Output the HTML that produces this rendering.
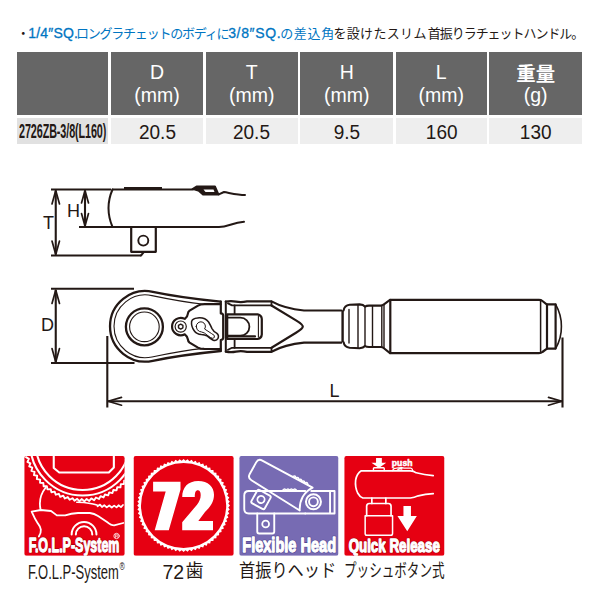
<!DOCTYPE html>
<html lang="ja"><head><meta charset="utf-8"><title>2726ZB-3/8(L160)</title>
<style>
html,body{margin:0;padding:0;background:#fff}
body{width:600px;height:600px;position:relative;overflow:hidden;font-family:"Liberation Sans","Noto Sans CJK JP",sans-serif;color:#231815}
.hdr{position:absolute;left:0;top:0;width:600px;height:46px;font-size:14px;white-space:nowrap}
.hdr .b{position:absolute;top:26.3px;line-height:15px;color:#0075c2;letter-spacing:.2px;-webkit-text-stroke:.3px #0075c2}
.hdr .j{position:absolute;top:25.5px;line-height:16.9px;font-size:13px;color:#231815;font-family:"Liberation Sans","Noto Sans CJK JP",sans-serif}
.hdr .j.bl{color:#0075c2}
.th{position:absolute;top:51.6px;height:63.9px;background:#666;color:#fff;text-align:center;font-size:19.5px;line-height:22.2px}
.th .hw{position:absolute;left:0;right:0;top:9.9px}
.th .jw{font-size:19.4px;font-weight:bold;position:relative;top:1.2px;font-family:"Liberation Sans","Noto Sans CJK JP",sans-serif}
.td{position:absolute;top:117.8px;height:26px;background:#eee;text-align:center;font-size:20px;line-height:28.6px;white-space:nowrap}
.td.m{background:#e1e1e1;text-align:left}
.td span{display:inline-block;transform:scaleX(.95)}
.td.m span{font-weight:bold;font-size:19.5px;transform:scaleX(.555);transform-origin:0 50%;margin-left:1.6px;letter-spacing:-.2px;position:relative;top:-.8px}
.cap{position:absolute;top:560px;height:24px;line-height:24px;font-size:19.5px;white-space:nowrap}
.cap .jc{display:inline-block;font-size:18px;line-height:18px;position:relative;top:-2.36px;transform-origin:0 50%;font-family:"Liberation Sans","Noto Sans CJK JP",sans-serif}
.c1{left:28px;font-size:21px}.c1 span{display:inline-block;transform:scaleX(.618);transform-origin:0 50%}
.c1 sup{font-size:11.5px;vertical-align:9px;line-height:0;margin-left:1px}
.c2{left:162.4px}.c2 span{display:inline-block;transform:scaleX(1);transform-origin:0 50%}
.c3{left:239px}
.c4{left:344px}
svg.full{position:absolute;left:0;top:0}
</style></head>
<body>
<div class="hdr"><span class="j" style="left:16.76px">・</span><span class="b" style="left:28.2px">1/4&#8243;SQ.</span><span class="j bl" style="left:75.93px;letter-spacing:-1.21px">ロングラチェットのボディに</span><span class="b" style="left:228.2px;letter-spacing:.65px">3/8&#8243;SQ.</span><span class="j bl" style="left:280.21px;letter-spacing:.66px">の差込角</span><span class="j" style="left:333.42px;letter-spacing:.33px">を設けたスリム</span><span class="j" style="left:427.8px;letter-spacing:-1.04px">首振りラチェットハンドル。</span></div>
<div class="th" style="left:17px;width:91.4px"><div class="hw"></div></div>
<div class="td m" style="left:17px;width:91.4px"><span>2726ZB-3/8(L160)</span></div>
<div class="th" style="left:111px;width:92.2px"><div class="hw">D<br>(mm)</div></div>
<div class="td" style="left:111px;width:92.2px"><span>20.5</span></div>
<div class="th" style="left:205.6px;width:92.2px"><div class="hw">T<br>(mm)</div></div>
<div class="td" style="left:205.6px;width:92.2px"><span>20.5</span></div>
<div class="th" style="left:300.4px;width:92.8px"><div class="hw">H<br>(mm)</div></div>
<div class="td" style="left:300.4px;width:92.8px"><span>9.5</span></div>
<div class="th" style="left:395.6px;width:91.2px"><div class="hw">L<br>(mm)</div></div>
<div class="td" style="left:395.6px;width:91.2px"><span>160</span></div>
<div class="th" style="left:489.4px;width:92.6px"><div class="hw"><span class="jw">重量</span><br>(g)</div></div>
<div class="td" style="left:489.4px;width:92.6px"><span>130</span></div>
<svg class="full" width="600" height="600" viewBox="0 0 600 600" fill="none" stroke="#231815" stroke-linecap="round" stroke-linejoin="round">
<!-- ===== side view ===== -->
<g stroke-width="2.1" stroke-linecap="butt">
  <path d="M51 189.5H111M79 227H112M51 255.5H141"/>
  <path d="M55.75 190.5V254.5M85 190.5V226"/>
</g>
<g stroke-width="1.7">
  <path d="M52 204L55.75 190.6L59.5 204M52 241L55.75 254.4L59.5 241"/>
  <path d="M81.5 203L85 190.6L88.5 203M81.5 213.5L85 225.9L88.5 213.5"/>
</g>
<g stroke-width="2">
  <path d="M112.5 189.5H193"/>
  <path d="M112.5 189.5Q104.5 208 112.5 227"/>
  <path d="M112.5 227H219C228 227 232 222.8 244 221.8"/>
  <path d="M218.8 194.3L224 192C230 193 238 195 245 195"/>
  <path d="M141 255.5L143.6 252.4"/>
</g>
<path d="M124 188.2H162" stroke-width="2.6" stroke-linecap="butt"/>
<path d="M192.5 189L196.5 186.4H215L218.6 194.6H203L199 191Z" stroke-width="1.8" fill="#231815"/>
<path d="M203.5 189.6H213.5L214.5 192H205.5Z" fill="#fff" stroke="none"/>
<rect x="131.2" y="227" width="24.6" height="24.8" stroke-width="2.2"/>
<circle cx="143.3" cy="240.6" r="5" stroke-width="1.9"/>
<!-- ===== top view : dimension lines ===== -->
<g stroke-width="2.1" stroke-linecap="butt">
  <path d="M51 288.8H134M51 363H134.5"/>
  <path d="M55.75 290V362"/>
  <path d="M107.3 336V407.5M562.5 337.5V407.5M108 401.3H562"/>
</g>
<g stroke-width="1.7">
  <path d="M52 303.5L55.75 290L59.5 303.5M52 348.5L55.75 362L59.5 348.5"/>
  <path d="M121.5 397.4L108 401.3L121.5 405.2M548.5 397.4L562 401.3L548.5 405.2"/>
</g>
<!-- ===== head ===== -->
<path d="M220.6 301.6Q180.0 297.5 152.8 291.8A35.3 35.3 0 1 0 152.8 360.8Q180.0 355.1 220.6 351.0" stroke-width="2.3"/>
<path d="M204 304.2Q182.4 302.0 152.0 295.6A31.4 31.4 0 1 0 152.0 357.0Q182.4 350.6 204 348.4" stroke-width="1.1"/>
<circle cx="144.4" cy="326.8" r="18.5" stroke-width="2.3"/>
<circle cx="144.4" cy="326.8" r="14.8" stroke-width="1.1"/>
<!-- screw boss + cover plate -->
<path d="M220.6 304.2H204.5Q200.5 304.2 198 305.6L189.6 310.6Q188 311.8 187.8 314Q187.6 316.8 184.8 318.9A8.7 8.7 0 1 0 184.8 334.3Q187.6 336.4 187.8 339.2Q188 341.4 189.6 342.6L198 347.6Q200.5 349 204.5 349H220.6" stroke-width="2.2"/>
<circle cx="180.7" cy="326.6" r="5.6" stroke-width="1.2"/>
<path d="M180.7 324.1L182.9 325.35V327.85L180.7 329.1L178.5 327.85V325.35Z" stroke-width="1.4"/>
<!-- selector lever -->
<path d="M191.6 321.4Q192.6 318.4 197.4 318Q204.6 317 208.6 322Q210.6 325.4 212 328.6Q213.6 331.6 216.6 333.2Q219.4 335.4 218 338.4Q216.4 341.4 212.8 340Q209.6 338 207.4 336.2Q204.8 334.8 201.4 334.6Q196.6 334.2 194.2 330.8Q191 326.4 191.6 321.4Z" stroke-width="1.5"/>
<path d="M196.2 326.4A4.6 4.6 0 1 1 204.6 329L211.6 333.6Q215.4 335.2 214.4 337.4Q213.2 339.2 210.4 337.6L204.4 333Q201.4 331.8 199.4 331.4Q196.4 330.4 196.2 326.4Z" stroke-width="1"/>
<!-- head end / tongue -->
<path d="M220.8 301.6V313.4Q223.2 313.6 223.2 315.6V337.6Q223.2 339.8 220.8 340V351" stroke-width="2.2"/>
<!-- ===== yoke ===== -->
<path d="M225.8 301.6V351.6" stroke-width="2"/>
<path d="M225.8 301.6Q231 300.6 236 301.6T247 301.4H271.5C278 305 288 309 304 310.5H341.2" stroke-width="2.2"/>
<path d="M225.8 351.6Q231 352.6 236 351.6T247 351.8H271.5C278 348.2 288 344.2 304 342.7H341.2" stroke-width="2.2"/>
<path d="M228 303.4L232 305.4H271.5M228 349.8L232 347.8H271.5" stroke-width="1.8"/>
<path d="M271.5 301.5V305.4M271.5 351.7V347.8" stroke-width="1.8"/>
<path d="M234.6 305.4V314M234.6 339.4V347.8" stroke-width="1.8"/>
<path d="M271.5 305.5L296 320.4Q302.8 324.4 302.8 326.6Q302.8 328.8 296 332.8L271.5 347.7" stroke-width="2.2"/>
<!-- pivot block -->
<path d="M227.2 314.4H257.6Q261.6 315.4 261.8 319V334.4Q261.6 338.2 257.6 339H227.2Z" stroke-width="2.2"/>
<path d="M258.4 316.4V337" stroke-width="1.1"/>
<path d="M227.6 336.4H255" stroke-width="2.2"/>
<path d="M227.6 317.7H240.4A9 9 0 0 1 240.4 335.7H227.6" stroke-width="1.8"/>
<!-- ===== shaft / knurl collar ===== -->
<path d="M342.6 310.3V342.2" stroke-width="2.4" stroke-linecap="butt"/>
<path d="M343.6 310.4Q344.4 305.4 349.6 304.8L359.6 304.4Q363.4 304.6 365 306.6Q366.4 305.6 369 305.6H381Q382.8 305.4 383.6 304.6L390 299.9" stroke-width="2.1"/>
<path d="M343.6 342.2Q344.4 347.2 349.6 347.8L359.6 348.2Q363.4 348 365 346Q366.4 347 369 347H381Q382.8 347.2 383.6 348L390 353.1" stroke-width="2.1"/>
<g stroke-width="1.4">
  <path d="M349 309.5V343M358 304.8V347.8M365 306.6V346M372.5 305.8V346.8M381.8 305.4V347.2M384 304.6V348"/>
</g>
<!-- ===== grip ===== -->
<path d="M390.3 299.9V353.2M390.3 299.9H539Q541 299.9 542.4 301L547 304.6V348.6L542.4 352Q541 353.2 539 353.2H390.3" stroke-width="2.2"/>
<path d="M540.6 300.4V352.6" stroke-width="1.5"/>
<path d="M547 304.4H555.6V348.6H547" stroke-width="2.2"/>
<path d="M555.6 304.4Q561.6 315 561.4 326.5Q561.6 338 555.6 348.6" stroke-width="1.6"/>
<g font-family="Liberation Sans, sans-serif" font-size="18" fill="#231815" stroke="none">
  <text x="43.1" y="229">T</text><text x="67.1" y="217">H</text><text x="41" y="331">D</text><text x="329.6" y="397">L</text>
</g>
</svg>

<svg class="full" width="600" height="600" viewBox="0 0 600 600">
<defs><clipPath id="c1"><rect width="100.5" height="99.8" rx="2.2"/></clipPath><clipPath id="c2"><rect width="100.25" height="99.8" rx="2.2"/></clipPath><clipPath id="c3"><rect width="99.25" height="99.8" rx="2.2"/></clipPath><clipPath id="c4"><rect width="100.25" height="99.8" rx="2.2"/></clipPath></defs>
<g transform="translate(24.25 456)" clip-path="url(#c1)" fill="none" stroke="#fff" stroke-linecap="round" stroke-linejoin="round">
<rect width="100.5" height="99.8" fill="#e60012" stroke="none"/>
<path d="M29.5 -1V12L35 16.5H84.6L89.6 11.5V-1" stroke-width="2.1"/>
<circle cx="58.4" cy="-13.0" r="47" stroke-width="2.1"/>
<circle cx="58.4" cy="-13.0" r="52.5" stroke-width="2.1"/>
<path d="M1.8 1.1L4.6 2.9L3.2 5.8L6.1 7.4L5 10.4L8 11.7L7.2 14.9L10.3 15.9L9.7 19.1L12.9 19.8L12.6 23.1L15.9 23.6L15.8 26.8L19.1 27L19.4 30.3L22.6 30.2L23.2 33.4L26.4 33.1L27.2 36.3L30.4 35.6L31.5 38.7L34.6 37.8L36 40.8L39 39.6L40.6 42.5L43.5 41.1L45.4 43.8L48.2 42.2L50.2 44.7L52.9 42.8L55.1 45.2L57.6 43.1L60.1 45.3L62.4 43L65 44.9L67.1 42.4L69.9 44.2L71.7 41.5L74.7 43L76.3 40.2L79.3 41.4L80.7 38.5L83.9 39.4L85 36.4L88.2 37.1L89.1 34L92.3 34.4L93 31.2L96.2 31.4L96.6 28.1L99.8 28L99.9 24.7L103.2 24.4L103 21.1L106.2 20.4" stroke-width="1.9"/>
<path d="M52.5 46.3Q60 46.3 66 47.4T73.5 49.3" stroke-width="1.5"/>
<path d="M73.3 50.3L75.8 48.6L77.7 51L80 49.3L82.5 51.4L85 49.5L87.5 51.5L89.9 49.6L92.3 51.4L94.3 49.3L96.7 51.1L98.7 49" stroke-width="1.8"/>
<path d="M21.3 31.7A26.4 26.4 0 0 0 16.3 53.5" stroke-width="1.8"/>
<path d="M14.6 80.5Q17 76.5 16.6 73.6Q16 70.4 13.6 67.4Q10.6 63 7.4 55.6L16.6 54L26.8 55L32.6 59.4L41 59.4Q47 57.2 53.8 57H65.6Q70 57.6 73.8 60L82.8 66Q87 69.4 89.8 69.4L99 67" stroke-width="1.8"/>
<path d="M47.4 78.4A12.4 12.4 0 0 1 72.2 78.4M51.6 78.4A8.2 8.2 0 0 1 68 78.4" stroke-width="2"/>
<text x="4.4" y="96.4" textLength="90.8" lengthAdjust="spacingAndGlyphs" font-family="Liberation Sans, sans-serif" font-weight="bold" font-size="21"  fill="#a4000c" stroke="#a4000c" stroke-width="2.6" stroke-linejoin="round">F.O.L.P-System</text><text x="4.4" y="96.4" textLength="90.8" lengthAdjust="spacingAndGlyphs" font-family="Liberation Sans, sans-serif" font-weight="bold" font-size="21"  fill="#fff" stroke="#fff" stroke-width="1.3" stroke-linejoin="round">F.O.L.P-System</text>
<circle cx="92.3" cy="80" r="2.7" stroke-width=".8"/><path d="M91.3 81.6V78.4H92.6Q93.6 78.5 93.5 79.3Q93.4 80 92.6 80.1H91.3M92.6 80.1L93.6 81.6" stroke-width=".6"/>
</g>
<g transform="translate(133.5 456)" clip-path="url(#c2)">
<rect width="100.25" height="99.8" fill="#e60012"/>
<path d="M96.5 49.5L94.8 51.4L96.3 53.5L94.4 55.3L95.8 57.6L93.7 59.2L94.9 61.5L92.7 62.9L93.7 65.4L91.4 66.6L92.2 69.1L89.7 70.1L90.3 72.7L87.8 73.5L88.1 76.1L85.6 76.7L85.6 79.3L83.1 79.7L82.9 82.3L80.3 82.5L79.9 85L77.3 85L76.7 87.5L74.1 87.2L73.3 89.7L70.7 89.1L69.7 91.6L67.2 90.8L66 93.1L63.5 92.1L62.1 94.3L59.8 93.1L58.2 95.2L55.9 93.8L54.1 95.7L52 94.2L50.1 95.9L48.2 94.2L46.1 95.7L44.3 93.8L42 95.2L40.4 93.1L38.1 94.3L36.7 92.1L34.2 93.1L33 90.8L30.5 91.6L29.5 89.1L26.9 89.7L26.1 87.2L23.5 87.5L22.9 85L20.3 85L19.9 82.5L17.3 82.3L17.1 79.7L14.6 79.3L14.6 76.7L12.1 76.1L12.4 73.5L9.9 72.7L10.5 70.1L8 69.1L8.8 66.6L6.5 65.4L7.5 62.9L5.3 61.5L6.5 59.2L4.4 57.6L5.8 55.3L3.9 53.5L5.4 51.4L3.7 49.5L5.4 47.6L3.9 45.5L5.8 43.7L4.4 41.4L6.5 39.8L5.3 37.5L7.5 36.1L6.5 33.6L8.8 32.4L8 29.9L10.5 28.9L9.9 26.3L12.4 25.5L12.1 22.9L14.6 22.3L14.6 19.7L17.1 19.3L17.3 16.7L19.9 16.5L20.3 14L22.9 14L23.5 11.5L26.1 11.8L26.9 9.3L29.5 9.9L30.5 7.4L33 8.2L34.2 5.9L36.7 6.9L38.1 4.7L40.4 5.9L42 3.8L44.3 5.2L46.1 3.3L48.2 4.8L50.1 3.1L52 4.8L54.1 3.3L55.9 5.2L58.2 3.8L59.8 5.9L62.1 4.7L63.5 6.9L66 5.9L67.2 8.2L69.7 7.4L70.7 9.9L73.3 9.3L74.1 11.8L76.7 11.5L77.3 14L79.9 14L80.3 16.5L82.9 16.7L83.1 19.3L85.6 19.7L85.6 22.3L88.1 22.9L87.8 25.5L90.3 26.3L89.7 28.9L92.2 29.9L91.4 32.4L93.7 33.6L92.7 36.1L94.9 37.5L93.7 39.8L95.8 41.4L94.4 43.7L96.3 45.5L94.8 47.6ZM92.7 49.5A42.6 42.6 0 1 0 7.5 49.5A42.6 42.6 0 1 0 92.7 49.5Z" fill="#fff" fill-rule="evenodd"/>
<path fill="#fff" d="M19.6 25.8H47V33.6L35.3 74.2H21.2L32.2 35.4H19.6Z"/>
<path fill="#fff" d="M48.7 41C48.7 31.3 54.5 25 64.7 25C74.8 25 80.5 31 80.5 38.7C80.5 46.3 76.5 51 71.5 56L64.8 65H79.5V74.2H48.7V66.3L63.5 48.7C65.8 45.7 67.2 42.7 67.2 39C67.2 36 66.2 34.3 64.3 34.3C62.2 34.3 61.3 36.3 61.3 41Z"/>
</g>
<g transform="translate(239.25 456)" clip-path="url(#c3)" fill="none" stroke="#fff" stroke-linecap="round" stroke-linejoin="round">
<rect width="99.25" height="99.8" fill="#776bb3" stroke="none"/>
<path d="M66 35H9.5Q5 35 5 39.5V53Q5 57.5 9.5 57.5H66" stroke-width="1.9"/><path d="M18 57.5V75.6Q18 77.5 19.9 77.5H33.1Q35 77.5 35 75.6V57.5" stroke-width="1.9"/><circle cx="26.4" cy="68" r="3.4" stroke-width="1.8"/>
<path d="M43.6 34.2q1.7-2.6 3.4 0q1.7-2.6 3.4 0q1.7-2.6 3.4 0q1.7-2.6 3.4 0" stroke-width="1.5"/>
<path d="M72 35H95.3V57.5H66M90.8 35V57.5" stroke-width="1.9"/>
<g transform="rotate(29 74.2 45.8)">
<path d="M66.6 33.8L9.5 34.6Q5 34.6 5 39.1V52.4Q5 56.9 9.5 57L66.4 60Q62.4 53.6 62.4 46.6Q62.6 39.6 66.6 33.8Z" stroke-width="1.9"/>
<rect x="19.6" y="61.6" width="15.2" height="15.2" rx="1.8" stroke-width="1.9"/>
<circle cx="27.2" cy="69.2" r="3.6" stroke-width="1.8"/>
<path d="M44 33.6q1.7-2.8 3.4 0q1.7-2.8 3.4 0q1.7-2.8 3.4 0q1.7-2.8 3.4 0q1.7-2.8 3.4 0" stroke-width="1.5"/>
</g>
<circle cx="74.2" cy="45.8" r="7.5" stroke-width="2" fill="#776bb3"/>
<circle cx="74.2" cy="45.8" r="4.4" stroke-width="1.9"/>
<text x="3" y="95.6" textLength="93.8" lengthAdjust="spacingAndGlyphs" font-family="Liberation Sans, sans-serif" font-weight="bold" font-size="19.6"  fill="#4b3f8f" stroke="#4b3f8f" stroke-width="2.6" stroke-linejoin="round">Flexible Head</text><text x="3" y="95.6" textLength="93.8" lengthAdjust="spacingAndGlyphs" font-family="Liberation Sans, sans-serif" font-weight="bold" font-size="19.6"  fill="#fff" stroke="#fff" stroke-width="1.3" stroke-linejoin="round">Flexible Head</text>
</g>
<g transform="translate(344.25 456)" clip-path="url(#c4)" fill="none" stroke="#fff" stroke-linecap="round" stroke-linejoin="round">
<rect width="100.25" height="99.8" fill="#e60012" stroke="none"/>
<path d="M89 19.6Q80 19 72 16.8Q69.4 14.8 66 14.8H17Q12.6 17.6 11.4 24Q10.6 31 13.4 37Q15.6 41 18.6 42H66Q70 41.6 74 39.8Q81 38.2 89 37.6" stroke-width="1.7"/>
<path d="M29.2 14.6V12.6Q29.2 11.8 30 11.8H39.2Q40 11.8 40 12.6V14.6" stroke-width="1.4"/>
<path d="M48.4 14.6Q49 12.4 52 12.2L57 11.6Q58.6 11.4 60 12.2H66.6Q68.2 12.4 68.4 14.6M53 14.4Q54 12.6 57.6 13" stroke-width="1.3"/>
<path d="M31.8 2H37.6V6.8H42L34.7 12L27.2 6.8H31.8Z" fill="#fff" stroke="none"/>
<text x="47.6" y="10.3" textLength="20.6" lengthAdjust="spacingAndGlyphs" font-family="Liberation Sans, sans-serif" font-weight="bold" font-size="8.6"  fill="#e60012" stroke="#e60012" stroke-width="0" stroke-linejoin="round">push</text><text x="47.6" y="10.3" textLength="20.6" lengthAdjust="spacingAndGlyphs" font-family="Liberation Sans, sans-serif" font-weight="bold" font-size="8.6"  fill="#fff" stroke="#fff" stroke-width=".5" stroke-linejoin="round">push</text>
<path d="M27.6 42.2V47.5M41.6 42.2V47.5" stroke-width="1.7"/>
<path d="M22.4 59.7V50.2Q22.4 47.5 25.1 47.5H44.1Q46.8 47.5 46.8 50.2V59.7" stroke-width="1.7"/>
<path d="M20.9 59.7H48.3V77.4Q48.3 79.2 46.5 79.2H22.7Q20.9 79.2 20.9 77.4Z" stroke-width="1.5"/>
<path d="M59.2 50H66.7V60H72.6L63 75.2L53.2 60H59.2Z" fill="#fff" stroke="none"/>
<text x="4.4" y="95.9" textLength="91.2" lengthAdjust="spacingAndGlyphs" font-family="Liberation Sans, sans-serif" font-weight="bold" font-size="18.6"  fill="#a4000c" stroke="#a4000c" stroke-width="2.6" stroke-linejoin="round">Quick Release</text><text x="4.4" y="95.9" textLength="91.2" lengthAdjust="spacingAndGlyphs" font-family="Liberation Sans, sans-serif" font-weight="bold" font-size="18.6"  fill="#fff" stroke="#fff" stroke-width="1.3" stroke-linejoin="round">Quick Release</text>
</g>
</svg>
<div class="cap c1"><span>F.O.L.P-System<sup>&reg;</sup></span></div>
<div class="cap c2"><span>72</span><span class="jc" style="margin-left:1.5px">歯</span></div>
<div class="cap c3"><span class="jc" style="transform:scaleX(.9)">首振りヘッド</span></div>
<div class="cap c4"><span class="jc" style="transform:scaleX(.698)">プッシュボタン式</span></div>
</body></html>
